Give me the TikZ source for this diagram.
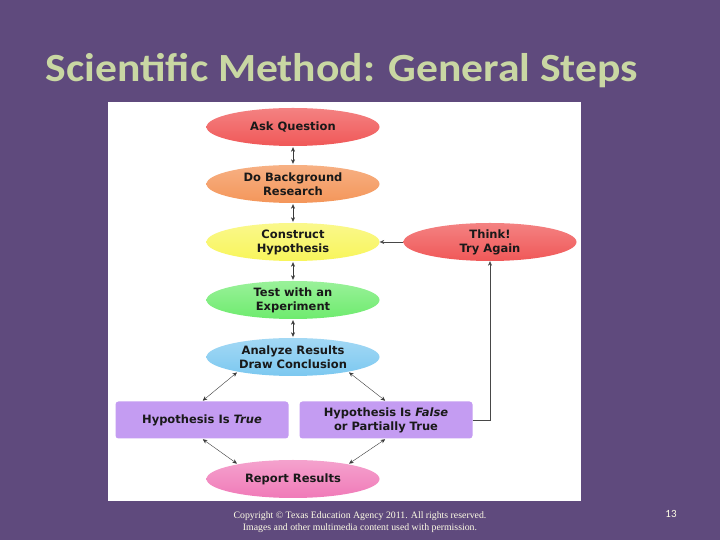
\documentclass[tikz,border=0pt]{standalone}
\usepackage{fontspec}
\setmainfont{DejaVu Sans}
\newfontfamily\titlefont{Carlito}
\newfontfamily\footfont{Liberation Serif}
\usetikzlibrary{shapes.geometric,arrows.meta}
\definecolor{slidebg}{RGB}{95,74,125}
\definecolor{titlegreen}{RGB}{201,215,163}
\definecolor{askred}{RGB}{240,88,88}
\definecolor{bgorange}{RGB}{244,150,90}
\definecolor{hypyellow}{RGB}{248,245,90}
\definecolor{testgreen}{RGB}{110,235,110}
\definecolor{analblue}{RGB}{124,200,240}
\definecolor{boxlilac}{RGB}{196,156,242}
\definecolor{reportpink}{RGB}{240,122,184}
\definecolor{textdark}{RGB}{25,25,25}
\begin{document}
\begin{tikzpicture}[x=1pt,y=1pt,
    stepnode/.style={ellipse,minimum width=173pt,minimum height=38pt,inner sep=0pt,
      align=center,font=\bfseries\fontsize{11.5}{14}\selectfont,text=textdark},
    resultbox/.style={rectangle,rounded corners=3pt,minimum width=173pt,minimum height=37pt,
      inner sep=0pt,align=center,fill=boxlilac,font=\bfseries\fontsize{11.5}{14}\selectfont,text=textdark},
    dblarrow/.style={{Stealth[length=4.5pt,width=4pt]}-{Stealth[length=4.5pt,width=4pt]},thin,textdark!85,shorten <=1pt,shorten >=1pt},
    onearrow/.style={-{Stealth[length=4.5pt,width=4pt]},thin,textdark!80}]
            \fill[slidebg] (0,0) rectangle (720,540);
            \node[anchor=base west,xscale=1.09,text=titlegreen,font=\titlefont\bfseries\fontsize{40}{44}\selectfont] (title) at (42,458) {Scientific Method: General Steps};
            \fill[white] (108,39) rectangle (581,438);
            % main steps
            \node[stepnode,top color=askred!75!white,bottom color=askred] (ask) at (293,413) {Ask Question};
            \node[stepnode,top color=bgorange!75!white,bottom color=bgorange] (research) at (293,356) {Do Background\\Research};
            \node[stepnode,top color=hypyellow!70!white,bottom color=hypyellow] (hyp) at (293,298) {Construct\\Hypothesis};
            \node[stepnode,top color=askred!75!white,bottom color=askred] (think) at (490,298) {Think!\\Try Again};
            \node[stepnode,top color=testgreen!70!white,bottom color=testgreen] (test) at (293,240) {Test with an\\Experiment};
            \node[stepnode,top color=analblue!70!white,bottom color=analblue] (analyze) at (293,183) {Analyze Results\\Draw Conclusion};
            \node[resultbox] (true) at (202,120) {Hypothesis Is \textit{True}};
            \node[resultbox] (false) at (386,120) {Hypothesis Is \textit{False}\\or Partially True};
            \node[stepnode,top color=reportpink!70!white,bottom color=reportpink] (report) at (293,61) {Report Results};
            % connectors
            \draw[dblarrow] (ask) -- (research);
            \draw[dblarrow] (research) -- (hyp);
            \draw[dblarrow] (hyp) -- (test);
            \draw[dblarrow] (test) -- (analyze);
            \draw[dblarrow] (analyze.195) -- (true.north);
            \draw[dblarrow] (analyze.345) -- (false.north);
            \draw[dblarrow] (true.south) -- (report.165);
            \draw[dblarrow] (false.south) -- (report.15);
            \draw[onearrow] (think) -- (hyp);
            \draw[onearrow] (false.east) -| (think.south);
            % footer
            \node[align=center,text=white!90!yellow,font=\footfont\fontsize{9.8}{12}\selectfont] (copy) at (360,18) {Copyright \copyright{} Texas Education Agency 2011. All rights reserved.\\Images and other multimedia content used with permission.};
            \node[text=white!90!yellow,font=\titlefont\fontsize{11}{13}\selectfont] (pagenum) at (671,26) {13};
        \end{tikzpicture}
\end{document}
